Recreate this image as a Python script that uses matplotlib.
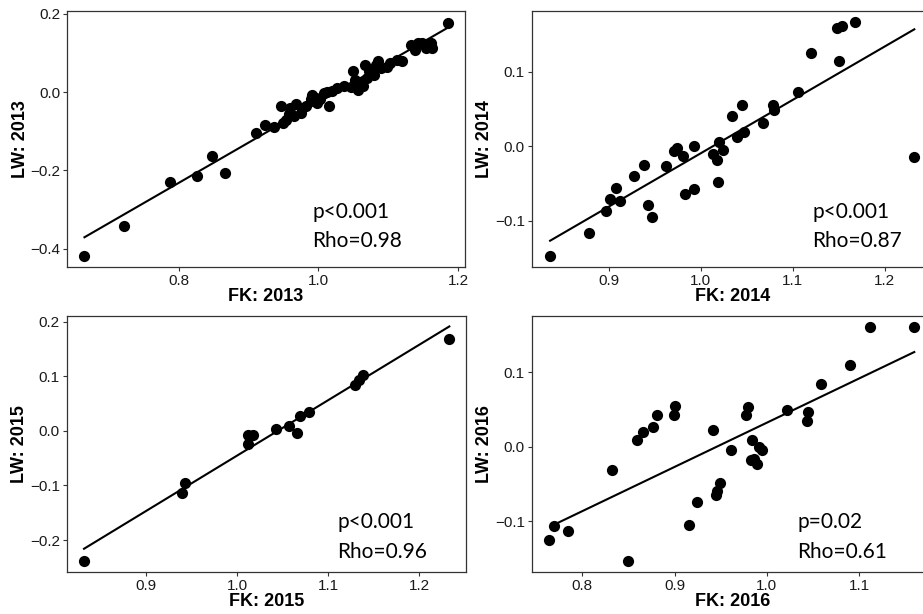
import numpy as np
import matplotlib.pyplot as plt

plt.rcParams['font.family'] = 'Liberation Sans'

# ---- data ----
fk_2013 = [0.665, 0.722, 0.787, 0.826, 0.848, 0.866, 0.911, 0.924, 0.936, 0.947,
           0.949, 0.953, 0.958, 0.960, 0.965, 0.968, 0.975, 0.982, 0.989, 0.991,
           0.996, 0.998, 1.003, 1.008, 1.015, 1.013, 1.020, 1.027, 1.037, 1.047,
           1.049, 1.052, 1.057, 1.059, 1.064, 1.067, 1.069, 1.072, 1.079, 1.082,
           1.086, 1.089, 1.098, 1.103, 1.113, 1.120, 1.132, 1.139, 1.142, 1.149,
           1.154, 1.161, 1.163, 1.186]
lw_2013 = [-0.418, -0.342, -0.230, -0.214, -0.163, -0.208, -0.104, -0.083, -0.090, -0.036,
           -0.080, -0.072, -0.055, -0.040, -0.060, -0.030, -0.053, -0.036, -0.019, -0.007,
           -0.015, -0.028, -0.019, -0.002, -0.036, 0.000, 0.002, 0.010, 0.016, 0.014,
           0.053, 0.031, 0.005, 0.022, 0.016, 0.070, 0.036, 0.053, 0.044, 0.070,
           0.078, 0.061, 0.065, 0.074, 0.082, 0.078, 0.121, 0.108, 0.125, 0.125,
           0.112, 0.125, 0.112, 0.176]

fk_2014 = [0.836, 0.878, 0.897, 0.901, 0.908, 0.912, 0.927, 0.938, 0.942, 0.947,
           0.962, 0.971, 0.974, 0.980, 0.983, 0.992, 0.993, 1.013, 1.017, 1.019,
           1.020, 1.024, 1.034, 1.039, 1.045, 1.047, 1.068, 1.078, 1.079, 1.105,
           1.120, 1.148, 1.150, 1.153, 1.167, 1.232]
lw_2014 = [-0.148, -0.116, -0.087, -0.071, -0.056, -0.074, -0.040, -0.025, -0.079, -0.095,
           -0.026, -0.007, -0.002, -0.013, -0.064, -0.057, 0.000, -0.010, -0.018, -0.048,
           0.005, -0.005, 0.040, 0.012, 0.055, 0.019, 0.031, 0.055, 0.049, 0.073,
           0.125, 0.159, 0.114, 0.162, 0.167, -0.014]

fk_2015 = [0.832, 0.940, 0.943, 1.012, 1.012, 1.018, 1.043, 1.057, 1.066, 1.069,
           1.079, 1.129, 1.134, 1.138, 1.233]
lw_2015 = [-0.238, -0.114, -0.096, -0.007, -0.024, -0.007, 0.004, 0.009, -0.004, 0.027,
           0.034, 0.084, 0.093, 0.102, 0.168]

fk_2016 = [0.764, 0.769, 0.784, 0.832, 0.850, 0.859, 0.866, 0.877, 0.881, 0.899,
           0.900, 0.916, 0.924, 0.942, 0.945, 0.946, 0.949, 0.961, 0.978, 0.980,
           0.983, 0.984, 0.986, 0.989, 0.992, 0.995, 1.022, 1.044, 1.045, 1.059,
           1.090, 1.112, 1.160]
lw_2016 = [-0.125, -0.107, -0.113, -0.032, -0.153, 0.009, 0.020, 0.026, 0.042, 0.043,
           0.054, -0.105, -0.074, 0.022, -0.065, -0.059, -0.049, -0.005, 0.043, 0.053,
           -0.018, 0.009, -0.017, -0.024, -0.001, -0.004, 0.049, 0.035, 0.046, 0.084,
           0.109, 0.161, 0.161]

# fitted lines (end points)
fit_x = {'2013': [0.665, 1.186], '2014': [0.836, 1.232], '2015': [0.832, 1.233], '2016': [0.769, 1.160]}
fit_y = {'2013': [-0.371, 0.165], '2014': [-0.127, 0.157], '2015': [-0.216, 0.191], '2016': [-0.105, 0.127]}

p_text = {'2013': 'p<0.001', '2014': 'p<0.001', '2015': 'p<0.001', '2016': 'p=0.02'}
rho_text = {'2013': 'Rho=0.98', '2014': 'Rho=0.87', '2015': 'Rho=0.96', '2016': 'Rho=0.61'}

xticks = {'2013': [0.8, 1.0, 1.2], '2014': [0.9, 1.0, 1.1, 1.2],
          '2015': [0.9, 1.0, 1.1, 1.2], '2016': [0.8, 0.9, 1.0, 1.1]}
yticks = {'2013': [-0.4, -0.2, 0.0, 0.2], '2014': [-0.1, 0.0, 0.1],
          '2015': [-0.2, -0.1, 0.0, 0.1, 0.2], '2016': [-0.1, 0.0, 0.1]}

W, H = 923, 614
fig = plt.figure(figsize=(W / 100, H / 100), dpi=100)

# layout in pixels: left, top, width, height; plus limits and text placement
panels = [
    ('2013', fk_2013, lw_2013, (67, 11, 398, 256), (0.640, 1.210), (-0.447, 0.207), (0.616, 0.19, 0.078)),
    ('2014', fk_2014, lw_2014, (531.7, 11, 401, 256), (0.816, 1.252), (-0.1623, 0.1816), (0.70, 0.19, 0.078)),
    ('2015', fk_2015, lw_2015, (66.7, 315.7, 399, 256), (0.813, 1.251), (-0.258, 0.2107), (0.678, 0.169, 0.055)),
    ('2016', fk_2016, lw_2016, (531.7, 315.7, 401, 256), (0.745, 1.180), (-0.168, 0.1758), (0.662, 0.169, 0.055)),
]

for yr, xs, ys, (l, t, w, h), xl, yl, (tx, ty1, ty2) in panels:
    ax = fig.add_axes([l / W, (H - t - h) / H, w / W, h / H])
    ax.scatter(xs, ys, s=65, color='black', zorder=3, linewidths=0)
    ax.plot(fit_x[yr], fit_y[yr], color='black', lw=1.5, zorder=2)
    ax.set_xlim(*xl)
    ax.set_ylim(*yl)
    ax.set_xticks(xticks[yr])
    ax.set_yticks(yticks[yr])
    ax.set_xticklabels([f'{v:.1f}' for v in xticks[yr]])
    ax.set_yticklabels([f'{v:.1f}'.replace('-', '\u2212') for v in yticks[yr]])
    ax.tick_params(length=3, width=0.8, color='#333333', labelcolor='#1a1a1a',
                   labelsize=11, pad=2)
    for sp in ax.spines.values():
        sp.set_color('#333333')
        sp.set_linewidth(0.9)
    ax.set_xlabel(f'FK: {yr}', fontsize=13, fontweight='bold', labelpad=0)
    ax.set_ylabel(f'LW: {yr}', fontsize=13, fontweight='bold', labelpad=1)
    ax.text(tx, ty1, p_text[yr], transform=ax.transAxes, fontsize=15,
            family='Lato', va='baseline', ha='left')
    ax.text(tx, ty2, rho_text[yr], transform=ax.transAxes, fontsize=15,
            family='Lato', va='baseline', ha='left')

fig.savefig('out.png', dpi=100)
